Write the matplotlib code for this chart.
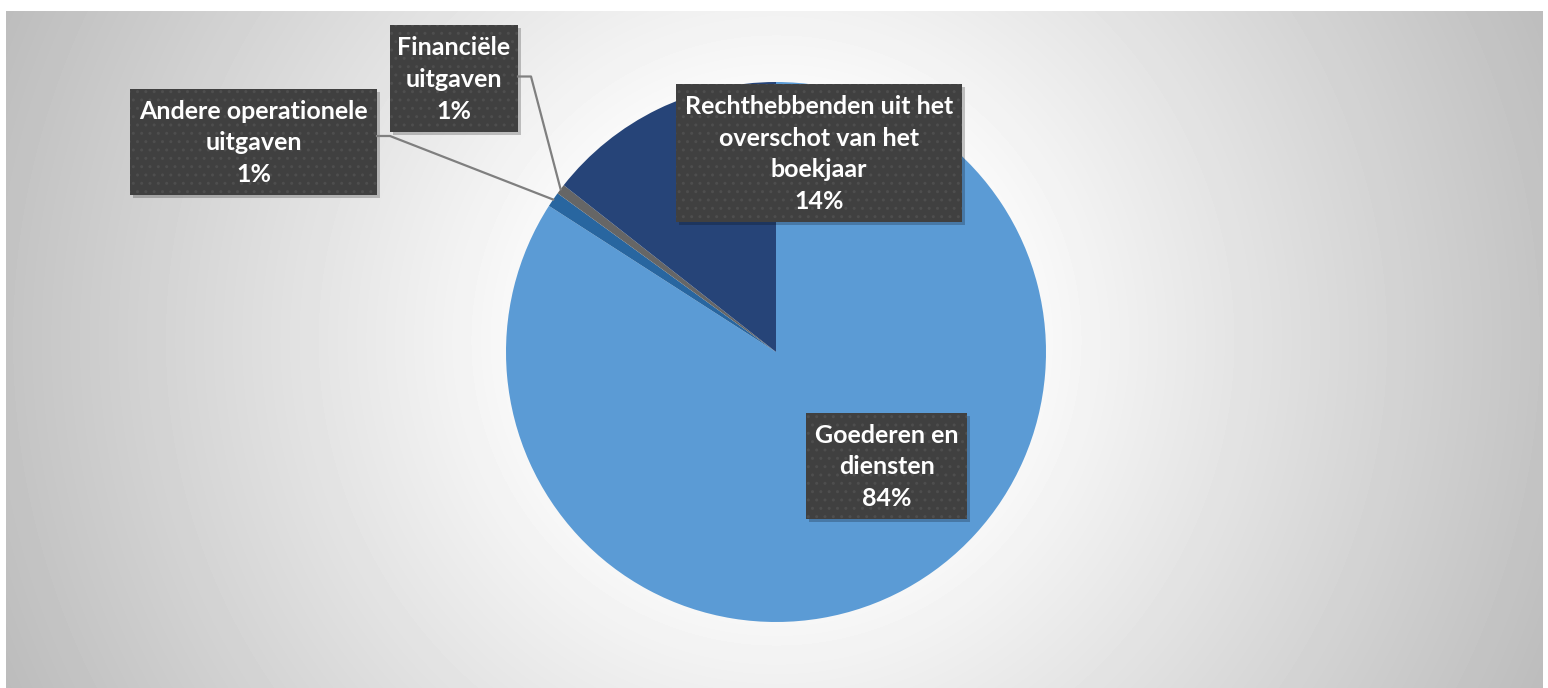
import numpy as np
import matplotlib.pyplot as plt
from matplotlib.patches import Rectangle

# chart data
categories = ["Goederen en\ndiensten",
              "Andere operationele\nuitgaven",
              "Financiële\nuitgaven",
              "Rechthebbenden uit het\noverschot van het\nboekjaar"]
shares = [84.1, 0.9, 0.6, 14.4]
colors = ["#5b9bd5", "#2866a0", "#666666", "#264478"]

W, H = 1548, 688
CX, CY, R = 776, 352, 270

# label boxes in pixel coords (left, top, right, bottom)
boxes = [(806, 413, 967, 519),
         (130, 89, 377, 195),
         (390, 25, 518, 132),
         (676, 84, 962, 222)]

fig = plt.figure(figsize=(W / 100, H / 100), dpi=100)
fig.patch.set_facecolor("white")

# radial grey background
bg = fig.add_axes([6 / W, 0, 1537 / W, 677 / H])
yy, xx = np.mgrid[11:688, 6:1543]
dist = np.hypot(xx - CX, yy - 340)
t = np.clip((dist - 200) / 660, 0, 1)
shade = 1 - 0.27 * t
bg.imshow(shade, cmap="gray", vmin=0, vmax=1, aspect="auto",
          interpolation="bilinear")
bg.axis("off")

# pie
ax = fig.add_axes([(CX - R) / W, (H - CY - R) / H, 2 * R / W, 2 * R / H])
wedges, _ = ax.pie(shares, colors=colors, startangle=90, counterclock=False,
                   radius=1, wedgeprops=dict(linewidth=0))
ax.set_xlim(-1, 1)
ax.set_ylim(-1, 1)
ax.axis("off")

# overlay in pixel coords for labels and leader lines
ov = fig.add_axes([0, 0, 1, 1])
ov.set_xlim(0, W)
ov.set_ylim(H, 0)
ov.axis("off")
ov.patch.set_alpha(0)


def edge_point(wedge):
    mid = np.deg2rad((wedge.theta1 + wedge.theta2) / 2)
    return CX + R * np.cos(mid), CY - R * np.sin(mid)


# leader lines for the two small slices
for i in (1, 2):
    x0, y0, x1, y1 = boxes[i]
    ex, ey = edge_point(wedges[i])
    if i == 1:
        ly = (y0 + y1) / 2 - 6
    else:
        ly = (y0 + y1) / 2 - 2
    ov.plot([x1, x1 + 13, ex], [ly, ly, ey], color="#7f7f7f", lw=1.6,
            solid_joinstyle="round")

for cat, share, (x0, y0, x1, y1) in zip(categories, shares, boxes):
    ov.add_patch(Rectangle((x0 + 3, y0 + 3), x1 - x0, y1 - y0,
                           color="black", alpha=0.22, lw=0))
    ov.add_patch(Rectangle((x0, y0), x1 - x0, y1 - y0,
                           facecolor="#404040", lw=0))
    ov.add_patch(Rectangle((x0, y0), x1 - x0, y1 - y0, fill=False,
                           hatch="..", edgecolor="#4e4e4e", lw=0))
    ov.text((x0 + x1) / 2, (y0 + y1) / 2 + 1, f"{cat}\n{share:.0f}%",
            ha="center", va="center", color="white", fontsize=18,
            fontweight="bold", family=["Lato", "DejaVu Sans"],
            linespacing=1.45)

fig.savefig("out.png", dpi=100)
